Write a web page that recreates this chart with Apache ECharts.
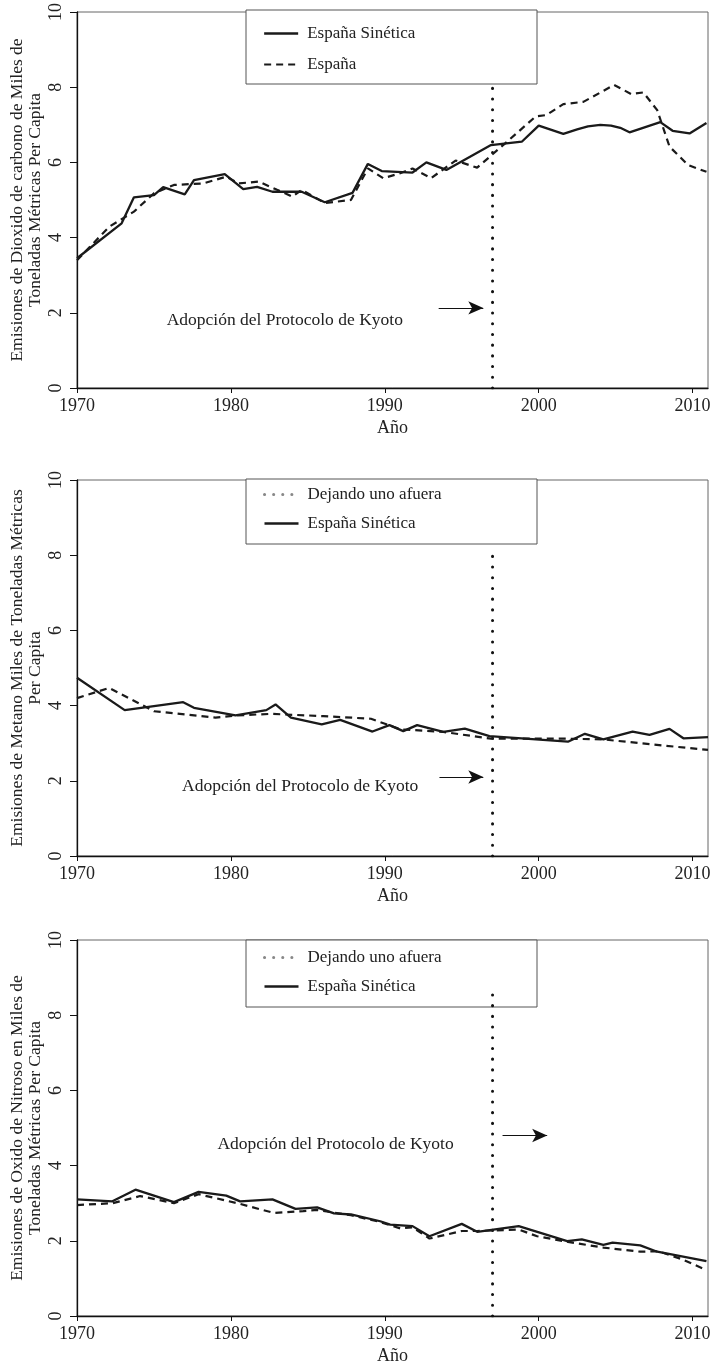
<!DOCTYPE html>
<html>
<head>
<meta charset="utf-8">
<script src="https://cdn.jsdelivr.net/npm/echarts@6/dist/echarts.min.js"></script>
<style>
html, body { margin: 0; padding: 0; background: #fff; }
#chart { width: 713px; height: 1369px; }
</style>
</head>
<body>
<div id="chart"></div>
<script>
// valores: [año, toneladas per capita]
const co2Sintetica = [[1970,3.45],[1972.9,4.38],[1973.7,5.07],[1975,5.13],[1975.6,5.34],[1977,5.15],[1977.6,5.53],[1979.6,5.69],[1980.8,5.29],[1981.7,5.35],[1982.7,5.22],[1984.6,5.22],[1986.1,4.94],[1987.9,5.19],[1988.9,5.96],[1989.8,5.77],[1991.8,5.73],[1992.7,6.0],[1994,5.8],[1996.9,6.46],[1998.9,6.55],[2000,6.98],[2001.6,6.76],[2002.5,6.88],[2003.2,6.96],[2004,7.0],[2004.7,6.98],[2005.3,6.92],[2005.9,6.8],[2007.9,7.07],[2008.7,6.84],[2009.8,6.77],[2010.9,7.05]]
const co2Espana = [[1970,3.4],[1972.1,4.29],[1973.7,4.69],[1975,5.18],[1976.3,5.4],[1978.2,5.44],[1979.7,5.62],[1980.5,5.44],[1981.8,5.49],[1983,5.27],[1984,5.09],[1984.6,5.27],[1986.1,4.92],[1987.8,5.0],[1988.9,5.84],[1989.9,5.58],[1991,5.71],[1991.8,5.84],[1993,5.58],[1994.6,6.05],[1996,5.86],[1997.8,6.5],[1998.8,6.86],[1999.8,7.22],[2000.5,7.26],[2001.6,7.55],[2002.9,7.61],[2004.9,8.06],[2006,7.82],[2006.8,7.86],[2007.7,7.39],[2008.5,6.42],[2009.7,5.93],[2010.9,5.75]]

const ch4Dejando = [[1970,4.2],[1972.1,4.47],[1975,3.85],[1979,3.68],[1980.4,3.74],[1982.6,3.78],[1986,3.72],[1989.1,3.65],[1991,3.37],[1993.8,3.3],[1996.9,3.12],[2001.9,3.12],[2004.2,3.1],[2011,2.82]]
const ch4Sintetica = [[1970,4.74],[1973.1,3.88],[1976.9,4.09],[1977.6,3.94],[1980.3,3.74],[1982.3,3.88],[1982.9,4.03],[1983.9,3.68],[1985.9,3.5],[1987.1,3.62],[1989.2,3.31],[1990.3,3.48],[1991.2,3.32],[1992.1,3.48],[1993.8,3.3],[1995.2,3.39],[1996.8,3.19],[2001.9,3.04],[2003,3.25],[2004.2,3.1],[2006.1,3.31],[2007.2,3.22],[2008.5,3.38],[2009.4,3.13],[2011,3.16]]

const n2oDejando = [[1970,2.95],[1972.3,3.0],[1974.1,3.19],[1976.3,3.0],[1977.9,3.24],[1980.6,2.98],[1982.8,2.74],[1984.7,2.79],[1985.6,2.82],[1987.8,2.68],[1989.7,2.5],[1991,2.33],[1991.8,2.36],[1992.9,2.06],[1995,2.26],[1996,2.26],[1998.7,2.3],[1999.9,2.12],[2001.9,1.97],[2004.2,1.82],[2006.6,1.71],[2007.8,1.72],[2009.3,1.51],[2010.8,1.24]]
const n2oSintetica = [[1970,3.1],[1972.3,3.05],[1973.8,3.36],[1976.3,3.03],[1977.9,3.3],[1979.7,3.2],[1980.6,3.05],[1982.7,3.1],[1984.2,2.85],[1985.6,2.89],[1986.7,2.73],[1987.8,2.7],[1989.7,2.52],[1990.35,2.43],[1991.8,2.39],[1992.9,2.12],[1995,2.45],[1996,2.24],[1998.7,2.39],[2001.85,1.99],[2002.8,2.04],[2004.2,1.89],[2004.8,1.95],[2006.6,1.88],[2007.7,1.71],[2010.9,1.46]]

// línea de Kyoto, flecha y texto de cada panel
const kyotoYear = 1997
const kyotoTop = [8.0, 8.2, 8.55]
const arrowFrom = [1993.5, 1993.55, 1997.65]
const arrowTo = [1996.4, 1996.4, 2000.55]
const arrowY = [2.13, 2.1, 4.8]
const noteX = [1983.5, 1984.5, 1986.8]
const noteY = [1.8, 1.86, 4.56]
const noteText = 'Adopción del Protocolo de Kyoto'

const yNames = [
    'Emisiones de Dioxido de carbono de Miles de\nToneladas Métricas Per Capita',
    'Emisiones de Metano Miles de Toneladas Métricas\nPer Capita',
    'Emisiones de Oxido de Nitroso en Miles de\nToneladas Métricas Per Capita'
]

const FONT = 'Liberation Serif'
const INK = '#1a1a1a'
const panelTop = [12, 480, 940]
const legendBox = [[10, 74], [479, 65], [940, 67]]
const legendTop = [25, 486, 949]
const legendGap = [14, 12, 12]

const chart = echarts.init(document.getElementById('chart'), null, { renderer: 'canvas' })

const grids = [], xAxes = [], yAxes = [], series = [], legends = [], graphics = []

panelTop.forEach((top, i) => {
    grids.push({
        left: 77, top: top, width: 631, height: 376,
        outerBoundsMode: 'none',
        show: true, borderColor: '#666', borderWidth: 1
    })
    xAxes.push({
        type: 'value', gridIndex: i, min: 1970, max: 2011, interval: 10,
        axisLine: { show: true, onZero: false, lineStyle: { color: '#111', width: 1.3 } },
        axisTick: { show: true, length: 5, lineStyle: { color: '#111' } },
        axisLabel: { fontFamily: FONT, fontSize: 18, color: '#222', margin: 9, showMaxLabel: false, formatter: v => String(v) },
        splitLine: { show: false },
        name: 'Año', nameLocation: 'middle', nameGap: 31, nameMoveOverlap: false,
        nameTextStyle: { fontFamily: FONT, fontSize: 18, color: '#222' }
    })
    yAxes.push({
        type: 'value', gridIndex: i, min: 0, max: 10, interval: 2,
        axisLine: { show: true, lineStyle: { color: '#111', width: 1.3 } },
        axisTick: { show: true, length: 7, lineStyle: { color: '#111' } },
        axisLabel: { fontFamily: FONT, fontSize: 18, color: '#222', rotate: 90, margin: 12 },
        splitLine: { show: false },
        name: yNames[i], nameLocation: 'middle', nameGap: 33, nameMoveOverlap: false,
        nameTextStyle: { fontFamily: FONT, fontSize: 17.5, lineHeight: 18, color: '#222' }
    })

    // línea punteada vertical, flecha y texto
    series.push({
        type: 'line', name: 'kyoto' + i, xAxisIndex: i, yAxisIndex: i,
        data: [[kyotoYear, 0], [kyotoYear, kyotoTop[i]]],
        symbol: 'none', silent: true,
        lineStyle: { color: '#111', width: 3, type: [0.1, 10.6], cap: 'round' },
        markLine: {
            silent: true, symbol: ['none', 'arrow'], symbolSize: [10, 15],
            label: { show: false },
            lineStyle: { color: '#111', width: 1.2, type: 'solid' },
            data: [[{ coord: [arrowFrom[i], arrowY[i]] }, { coord: [arrowTo[i], arrowY[i]] }]]
        },
        markPoint: {
            silent: true, symbol: 'circle', symbolSize: 0,
            label: { show: true, position: 'inside', formatter: noteText, fontFamily: FONT, fontSize: 17.5, color: '#222' },
            data: [{ coord: [noteX[i], noteY[i]] }]
        }
    })

    graphics.push({
        type: 'rect', z: 3,
        shape: { x: 246, y: legendBox[i][0], width: 291, height: legendBox[i][1] },
        style: { fill: '#fff', stroke: '#555', lineWidth: 1 }
    })
})

const solid = { color: INK, width: 2.3, type: 'solid' }
const dashed = { color: INK, width: 2.2, type: [7, 5] }
const grayDots = { color: '#888', width: 3, type: [0.1, 9], cap: 'round' }
const noMarker = { opacity: 0 }

series.push(
    { type: 'line', name: 'España Sinética', xAxisIndex: 0, yAxisIndex: 0, data: co2Sintetica, symbol: 'none', lineStyle: solid, itemStyle: { color: INK } },
    { type: 'line', name: 'España', xAxisIndex: 0, yAxisIndex: 0, data: co2Espana, symbol: 'none', lineStyle: dashed, itemStyle: { color: INK } },
    { type: 'line', name: 'España Sinética', xAxisIndex: 1, yAxisIndex: 1, data: ch4Sintetica, symbol: 'none', lineStyle: solid, itemStyle: { color: INK } },
    { type: 'line', name: 'Dejando uno afuera', xAxisIndex: 1, yAxisIndex: 1, data: ch4Dejando, symbol: 'none', lineStyle: dashed, itemStyle: { color: INK } },
    { type: 'line', name: 'España Sinética', xAxisIndex: 2, yAxisIndex: 2, data: n2oSintetica, symbol: 'none', lineStyle: solid, itemStyle: { color: INK } },
    { type: 'line', name: 'Dejando uno afuera', xAxisIndex: 2, yAxisIndex: 2, data: n2oDejando, symbol: 'none', lineStyle: dashed, itemStyle: { color: INK } }
)

const legendNames = [
    [{ name: 'España Sinética', lineStyle: solid, itemStyle: noMarker }, { name: 'España', lineStyle: dashed, itemStyle: noMarker }],
    [{ name: 'Dejando uno afuera', lineStyle: grayDots, itemStyle: noMarker }, { name: 'España Sinética', lineStyle: solid, itemStyle: noMarker }],
    [{ name: 'Dejando uno afuera', lineStyle: grayDots, itemStyle: noMarker }, { name: 'España Sinética', lineStyle: solid, itemStyle: noMarker }]
]
legendNames.forEach((data, i) => {
    legends.push({
        orient: 'vertical', left: 263, top: legendTop[i], z: 6, padding: 0,
        itemWidth: 34, itemHeight: 14, itemGap: legendGap[i],
        selectedMode: false, data: data,
        textStyle: { fontFamily: FONT, fontSize: 17, color: '#222', padding: [0, 0, 0, 4] }
    })
})

chart.setOption({
    animation: false,
    backgroundColor: '#fff',
    grid: grids,
    xAxis: xAxes,
    yAxis: yAxes,
    legend: legends,
    graphic: graphics,
    series: series
})
</script>
</body>
</html>
